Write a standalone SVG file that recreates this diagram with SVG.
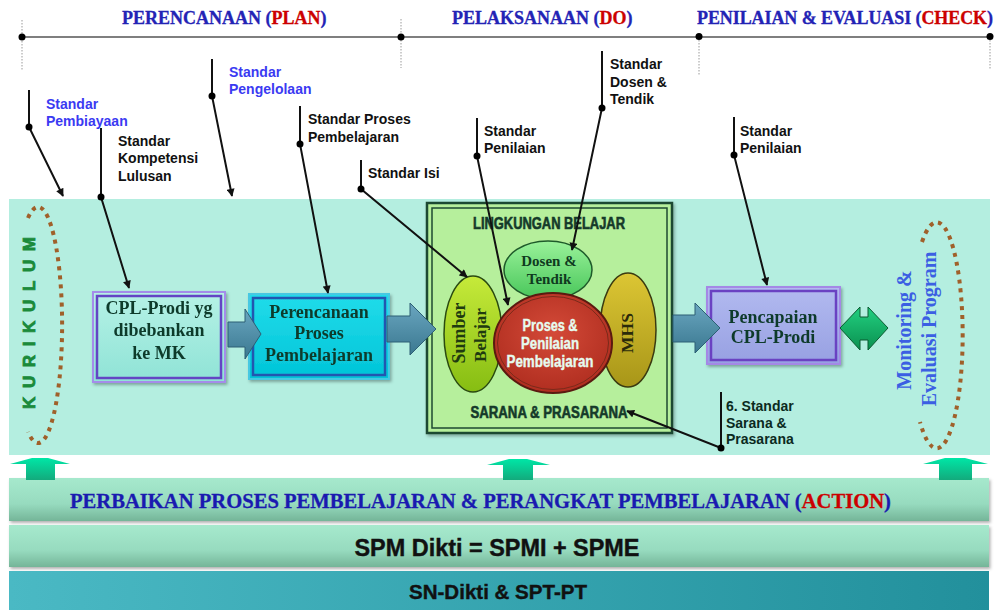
<svg xmlns="http://www.w3.org/2000/svg" width="994" height="610" viewBox="0 0 994 610">
<defs>
<style>
.lbl{font-family:"Liberation Sans",Arial,sans-serif;font-weight:bold;font-size:14px;fill:#111}
.blue{fill:#3a3af2}
.hdr{font-family:"Liberation Serif","Times New Roman",serif;font-weight:bold;font-size:18px;fill:#2323b5}
.red{fill:#cc0000}
.box{font-family:"Liberation Serif","Times New Roman",serif;font-weight:bold;font-size:18px;fill:#0f3a2c;text-anchor:middle}
.cond{font-family:"Liberation Sans",Arial,sans-serif;font-weight:bold;text-anchor:middle}
.lead{fill:none;stroke:#111;stroke-width:2}
.tick{stroke:#9a9a9a;stroke-width:1;stroke-dasharray:1.5 1.5}
.dot{fill:#000}
.blk{fill:url(#gBlk);stroke:#2d5f74;stroke-width:1}
.up{fill:url(#gUp)}
.ring{fill:none;stroke:#a0602a;stroke-width:4;stroke-dasharray:4 5}
</style>
<marker id="ah" viewBox="0 0 10 10" refX="9" refY="5" markerWidth="9" markerHeight="8" markerUnits="userSpaceOnUse" orient="auto"><path d="M0,0 L10,5 L0,10 z" fill="#111"/></marker>
<linearGradient id="gBlk" x1="0" y1="0" x2="0" y2="1"><stop offset="0" stop-color="#6aa6c0"/><stop offset="1" stop-color="#3a7890"/></linearGradient>
<linearGradient id="gUp" x1="0" y1="0" x2="0" y2="1"><stop offset="0" stop-color="#00e6a6"/><stop offset="1" stop-color="#13aa7c"/></linearGradient>
<linearGradient id="gBar" x1="0" y1="0" x2="0" y2="1"><stop offset="0" stop-color="#a6e9cd"/><stop offset="0.6" stop-color="#97dbbf"/><stop offset="1" stop-color="#74b598"/></linearGradient>
<linearGradient id="gBar3" x1="0" y1="0" x2="1" y2="0"><stop offset="0" stop-color="#4ab9c4"/><stop offset="1" stop-color="#22909c"/></linearGradient>
<linearGradient id="gCpl" x1="0" y1="0" x2="0" y2="1"><stop offset="0" stop-color="#b6f2e6"/><stop offset="1" stop-color="#8fe3d6"/></linearGradient>
<linearGradient id="gPer" x1="0" y1="0" x2="0" y2="1"><stop offset="0" stop-color="#22dcea"/><stop offset="1" stop-color="#00c4d8"/></linearGradient>
<linearGradient id="gPen" x1="0" y1="0" x2="0" y2="1"><stop offset="0" stop-color="#b2baf0"/><stop offset="1" stop-color="#97a0e2"/></linearGradient>
<linearGradient id="gDos" x1="0" y1="0" x2="0" y2="1"><stop offset="0" stop-color="#9af29a"/><stop offset="1" stop-color="#48c65a"/></linearGradient>
<linearGradient id="gSum" x1="0" y1="0" x2="0" y2="1"><stop offset="0" stop-color="#c6ea3a"/><stop offset="1" stop-color="#86bd12"/></linearGradient>
<linearGradient id="gMhs" x1="0" y1="0" x2="0" y2="1"><stop offset="0" stop-color="#dcc634"/><stop offset="1" stop-color="#a89618"/></linearGradient>
<radialGradient id="gPro" cx="0.5" cy="0.4" r="0.6"><stop offset="0" stop-color="#d44a38"/><stop offset="1" stop-color="#b02e20"/></radialGradient>
<linearGradient id="gDbl" x1="0" y1="0" x2="0" y2="1"><stop offset="0" stop-color="#22d080"/><stop offset="1" stop-color="#0a9050"/></linearGradient>
<filter id="sh" x="-10%" y="-10%" width="130%" height="130%"><feDropShadow dx="1.5" dy="2" stdDeviation="1.5" flood-color="#000" flood-opacity="0.3"/></filter>
</defs>

<rect width="994" height="610" fill="#ffffff"/>

<!-- header timeline -->
<g id="timeline">
<line x1="22" y1="37" x2="990" y2="37" stroke="#555" stroke-width="1.5"/>
<line class="tick" x1="22" y1="20" x2="22" y2="70"/>
<line class="tick" x1="401" y1="19" x2="401" y2="68"/>
<line class="tick" x1="699" y1="37" x2="699" y2="75"/>
<line class="tick" x1="990" y1="37" x2="990" y2="70"/>
<circle class="dot" cx="22" cy="37" r="3.5"/>
<circle class="dot" cx="401" cy="37" r="3.5"/>
<circle class="dot" cx="699" cy="36.5" r="3.5"/>
<circle class="dot" cx="990" cy="36.5" r="3.5"/>
<text class="hdr" x="122" y="24" stroke="#2323b5" stroke-width="0.3">PERENCANAAN (<tspan class="red" stroke="#cc0000">PLAN</tspan>)</text>
<text class="hdr" x="452" y="24" stroke="#2323b5" stroke-width="0.3">PELAKSANAAN (<tspan class="red" stroke="#cc0000">DO</tspan>)</text>
<text class="hdr" x="697" y="24" textLength="296" stroke="#2323b5" stroke-width="0.3">PENILAIAN &amp; EVALUASI (<tspan class="red" stroke="#cc0000">CHECK</tspan>)</text>
</g>

<!-- main band -->
<rect id="band" x="9" y="199" width="981" height="256" fill="#b4eee0"/>

<!-- bottom bars -->
<g id="bar-action">
<rect x="9" y="478" width="980" height="43" fill="url(#gBar)" filter="url(#sh)"/>
<text x="70" y="508" textLength="821" lengthAdjust="spacingAndGlyphs" stroke="#1a1ab0" stroke-width="0.3" style="font-family:'Liberation Serif','Times New Roman',serif;font-weight:bold;font-size:20px;fill:#1a1ab0">PERBAIKAN PROSES PEMBELAJARAN &amp; PERANGKAT PEMBELAJARAN (<tspan class="red" stroke="#cc0000">ACTION</tspan>)</text>
</g>
<g id="bar-spm">
<rect x="9" y="525" width="980" height="42" fill="url(#gBar)" filter="url(#sh)"/>
<text x="497" y="556" textLength="285" lengthAdjust="spacingAndGlyphs" stroke="#111" stroke-width="0.4" style="font-family:'Liberation Sans',Arial,sans-serif;font-weight:bold;font-size:23px;fill:#111;text-anchor:middle">SPM Dikti = SPMI + SPME</text>
</g>
<g id="bar-sn">
<rect x="9" y="571" width="980" height="39" fill="url(#gBar3)"/>
<text x="498" y="599" textLength="178" lengthAdjust="spacingAndGlyphs" stroke="#111" stroke-width="0.4" style="font-family:'Liberation Sans',Arial,sans-serif;font-weight:bold;font-size:21px;fill:#111;text-anchor:middle">SN-Dikti &amp; SPT-PT</text>
</g>

<!-- up arrows -->
<g id="up-arrows">
<polygon class="up" points="10,464 32,458 48,458 70,464 55,464 55,480 26,480 26,464"/>
<polygon class="up" points="487,465 509,459 527,459 550,465 533,465 533,480 503,480 503,465"/>
<polygon class="up" points="923,464 945,458 965,458 988,464 972,464 972,480 939,480 939,464"/>
</g>

<!-- kurikulum -->
<g id="kurikulum">
<path class="ring" d="M28,218 A24,118 0 1,1 28,432"/>
<text transform="translate(35,323) rotate(-90)" textLength="172" lengthAdjust="spacing" stroke="#1a8a3a" stroke-width="0.8" style="font-family:'Liberation Sans',Arial,sans-serif;font-weight:bold;font-size:17px;fill:#1a8a3a;text-anchor:middle">KURIKULUM</text>
</g>

<!-- monitoring -->
<g id="monitoring">
<path class="ring" d="M922,242 A26,113 0 1,1 920,422"/>
<text transform="translate(911,330) rotate(-90)" style="font-family:'Liberation Serif','Times New Roman',serif;font-weight:bold;font-size:20px;fill:#3b5fe3;text-anchor:middle">Monitoring &amp;</text>
<text transform="translate(936,329) rotate(-90)" style="font-family:'Liberation Serif','Times New Roman',serif;font-weight:bold;font-size:20px;fill:#3b5fe3;text-anchor:middle">Evaluasi Program</text>
</g>

<!-- CPL box -->
<g id="cpl" filter="url(#sh)">
<rect x="93" y="292" width="132" height="90" fill="url(#gCpl)" stroke="#a48cea" stroke-width="2"/>
<rect x="97" y="296" width="124" height="82" fill="none" stroke="#6444c4" stroke-width="2.5"/>
<text class="box" x="159" y="314">CPL-Prodi yg</text>
<text class="box" x="159" y="336">dibebankan</text>
<text class="box" x="159" y="359">ke MK</text>
</g>

<!-- Perencanaan box -->
<g id="perencanaan" filter="url(#sh)">
<rect x="249" y="294" width="140" height="85" fill="url(#gPer)" stroke="#46c8e2" stroke-width="2"/>
<rect x="253" y="298" width="132" height="77" fill="none" stroke="#2356b0" stroke-width="2.5"/>
<text class="box" x="319" y="318">Perencanaan</text>
<text class="box" x="319" y="339">Proses</text>
<text class="box" x="319" y="361">Pembelajaran</text>
</g>

<!-- Lingkungan belajar -->
<g id="lingkungan">
<rect x="427" y="203" width="245" height="230" fill="#b6ef9c" stroke="#1e4a30" stroke-width="2.5" filter="url(#sh)"/>
<rect x="432" y="208" width="235" height="220" fill="none" stroke="#1e4a30" stroke-width="1.5"/>
<text class="cond" x="549" y="229" textLength="152" lengthAdjust="spacingAndGlyphs" stroke="#153a2a" stroke-width="0.6" style="font-size:16px;fill:#153a2a">LINGKUNGAN BELAJAR</text>
<text class="cond" x="549" y="418" textLength="157" lengthAdjust="spacingAndGlyphs" stroke="#153a2a" stroke-width="0.6" style="font-size:16px;fill:#153a2a">SARANA &amp; PRASARANA</text>
</g>

<g id="dosen">
<ellipse cx="548" cy="270" rx="44" ry="29" fill="url(#gDos)" stroke="#1e5a2a" stroke-width="1.5"/>
<text x="549" y="266" style="font-family:'Liberation Serif','Times New Roman',serif;font-weight:bold;font-size:15px;fill:#0f3a20;text-anchor:middle">Dosen &amp;</text>
<text x="549" y="284" style="font-family:'Liberation Serif','Times New Roman',serif;font-weight:bold;font-size:15px;fill:#0f3a20;text-anchor:middle">Tendik</text>
</g>

<g id="sumber">
<ellipse cx="473" cy="334" rx="29" ry="58" fill="url(#gSum)" stroke="#2a4a10" stroke-width="1.5"/>
<text transform="translate(465,333) rotate(-90)" style="font-family:'Liberation Serif','Times New Roman',serif;font-weight:bold;font-size:18px;fill:#203a10;text-anchor:middle">Sumber</text>
<text transform="translate(486,335) rotate(-90)" style="font-family:'Liberation Serif','Times New Roman',serif;font-weight:bold;font-size:17px;fill:#203a10;text-anchor:middle">Belajar</text>
</g>

<g id="mhs">
<ellipse cx="628" cy="330" rx="28" ry="57" fill="url(#gMhs)" stroke="#3a3a10" stroke-width="1.5"/>
<text transform="translate(633,333) rotate(-90)" style="font-family:'Liberation Serif','Times New Roman',serif;font-weight:bold;font-size:17.5px;fill:#2a2a0a;text-anchor:middle">MHS</text>
</g>

<g id="proses">
<ellipse cx="553" cy="343" rx="59" ry="50" fill="url(#gPro)" stroke="#5a1a10" stroke-width="2"/>
<ellipse cx="553" cy="343" rx="55.5" ry="46.5" fill="none" stroke="#7a2a1a" stroke-width="1"/>
<text class="cond" x="550" y="331" textLength="55" lengthAdjust="spacingAndGlyphs" stroke="#e6fbef" stroke-width="0.4" style="font-size:16px;fill:#e6fbef">Proses &amp;</text>
<text class="cond" x="550" y="349" textLength="58" lengthAdjust="spacingAndGlyphs" stroke="#e6fbef" stroke-width="0.4" style="font-size:16px;fill:#e6fbef">Penilaian</text>
<text class="cond" x="550" y="367" textLength="87" lengthAdjust="spacingAndGlyphs" stroke="#e6fbef" stroke-width="0.4" style="font-size:16px;fill:#e6fbef">Pembelajaran</text>
</g>

<!-- Pencapaian box -->
<g id="pencapaian" filter="url(#sh)">
<rect x="707" y="287" width="133" height="77" fill="url(#gPen)" stroke="#a488e6" stroke-width="2"/>
<rect x="711" y="291" width="125" height="69" fill="none" stroke="#6a42c2" stroke-width="2.5"/>
<text class="box" x="773" y="323">Pencapaian</text>
<text class="box" x="773" y="343">CPL-Prodi</text>
</g>

<!-- connectors -->
<g id="connectors">
<polygon class="blk" points="228,322 245,322 245,309 261,334 245,359 245,347 228,347"/>
<polygon class="blk" points="387,316 410,316 410,303 436,329 410,355 410,342 387,342"/>
<polygon class="blk" points="673,315 695,315 695,303 720,328 695,353 695,342 673,342"/>
<polygon points="840,328 860,307 860,317 868,317 868,307 888,328 868,350 868,340 860,340 860,350" fill="url(#gDbl)" stroke="#0a5a30" stroke-width="1"/>

<path class="lead" d="M29,90 V127 L63,196" marker-end="url(#ah)"/>
<circle class="dot" cx="29" cy="127" r="3.5"/>
<path class="lead" d="M101,128 V197 L129,288" marker-end="url(#ah)"/>
<circle class="dot" cx="101" cy="197" r="3.5"/>
<path class="lead" d="M212,59 V96 L232,196" marker-end="url(#ah)"/>
<circle class="dot" cx="212" cy="96" r="3.5"/>
<path class="lead" d="M300,106 V144 L328,293" marker-end="url(#ah)"/>
<circle class="dot" cx="300" cy="144" r="3.5"/>
<path class="lead" d="M361,160 V189 L467,277" marker-end="url(#ah)"/>
<circle class="dot" cx="361" cy="189" r="3.5"/>
<path class="lead" d="M477,118 V156 L508,305" marker-end="url(#ah)"/>
<circle class="dot" cx="477" cy="156" r="3.5"/>
<path class="lead" d="M602,51 V108 L572,250" marker-end="url(#ah)"/>
<circle class="dot" cx="602" cy="108" r="3.5"/>
<path class="lead" d="M734,117 V155 L767,285" marker-end="url(#ah)"/>
<circle class="dot" cx="734" cy="155" r="3.5"/>
<path class="lead" d="M721,392 V448 L627,411" marker-end="url(#ah)"/>
<circle class="dot" cx="721" cy="448" r="3.5"/>
</g>

<!-- labels -->
<g id="labels">
<text class="lbl blue" x="46" y="109">Standar</text>
<text class="lbl blue" x="46" y="126">Pembiayaan</text>
<text class="lbl" x="118" y="146"> Standar</text>
<text class="lbl" x="118" y="163">Kompetensi</text>
<text class="lbl" x="118" y="181">Lulusan</text>
<text class="lbl blue" x="229" y="77">Standar</text>
<text class="lbl blue" x="229" y="94">Pengelolaan</text>
<text class="lbl" x="308" y="124">Standar Proses</text>
<text class="lbl" x="308" y="142">Pembelajaran</text>
<text class="lbl" x="368" y="178">Standar Isi</text>
<text class="lbl" x="484" y="136">Standar</text>
<text class="lbl" x="484" y="153">Penilaian</text>
<text class="lbl" x="610" y="69">Standar</text>
<text class="lbl" x="610" y="87">Dosen &amp;</text>
<text class="lbl" x="610" y="104">Tendik</text>
<text class="lbl" x="740" y="136">Standar</text>
<text class="lbl" x="740" y="153">Penilaian</text>
<text class="lbl" x="726" y="411" style="fill:#0b2a1e">6. Standar</text>
<text class="lbl" x="726" y="428" style="fill:#0b2a1e">Sarana &amp;</text>
<text class="lbl" x="726" y="444" style="fill:#0b2a1e">Prasarana</text>
</g>
</svg>
